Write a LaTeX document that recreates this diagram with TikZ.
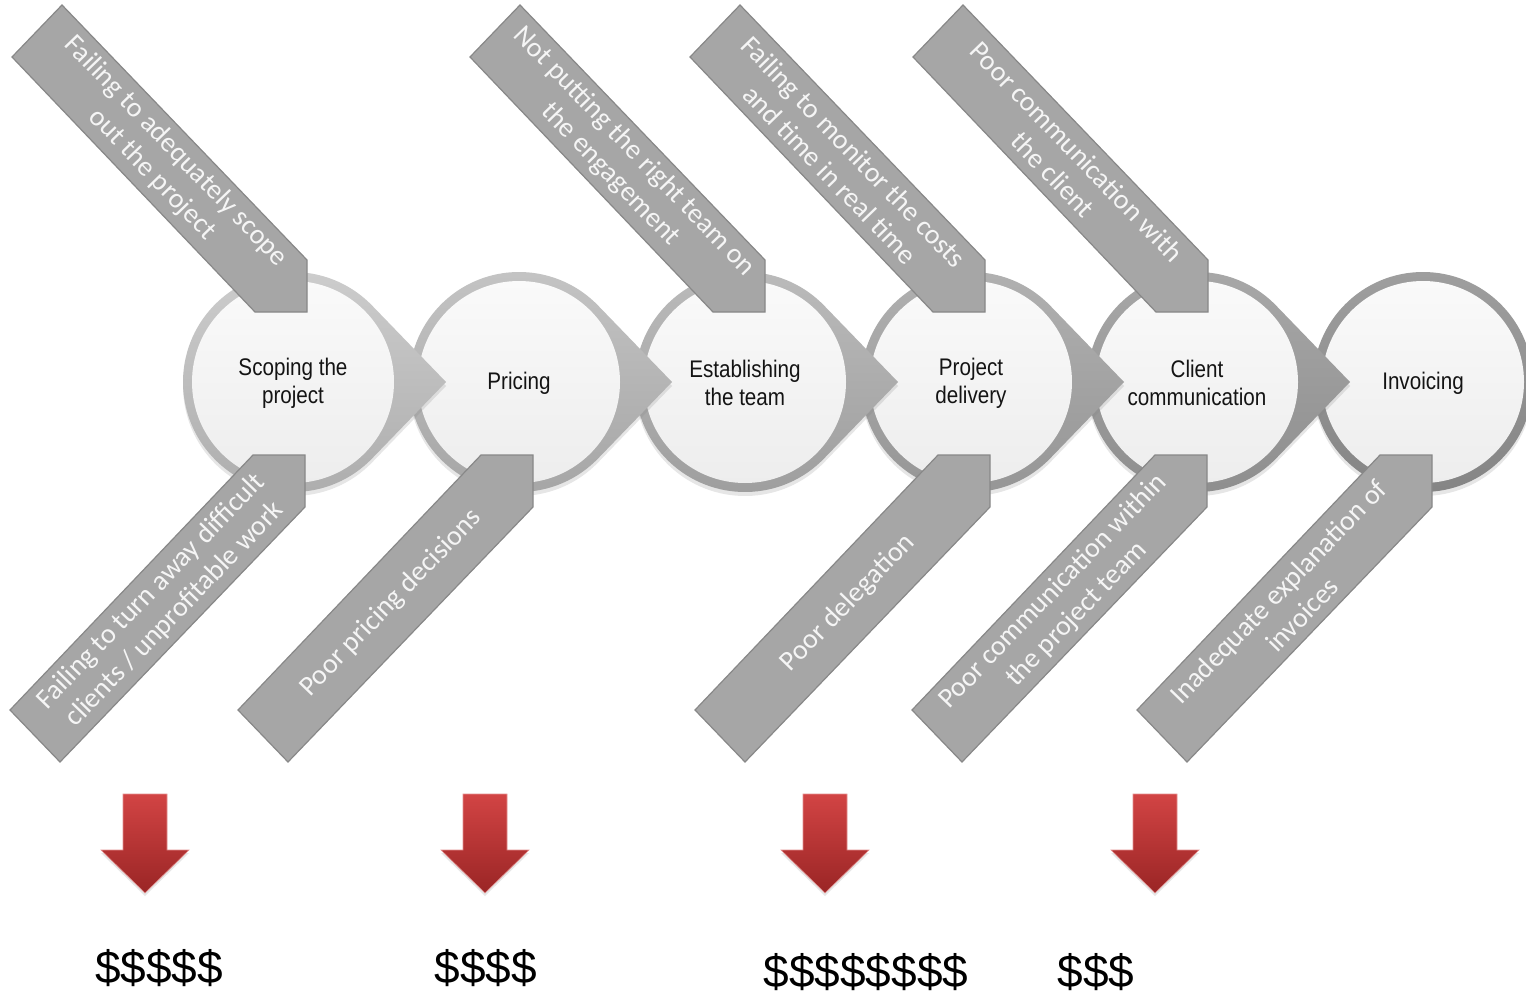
\documentclass[tikz,border=0pt]{standalone}
\usepackage{fontspec}
\usetikzlibrary{shadows}
\newfontfamily\calibri{Carlito}
\newfontfamily\arial{Liberation Sans}
\newfontfamily\arialnarrow[FakeStretch=0.86]{Liberation Sans}

\definecolor{causefill}{HTML}{A6A6A6}
\definecolor{causeline}{HTML}{888888}
\definecolor{costtop}{HTML}{D24444}
\definecolor{costbot}{HTML}{9A2525}
\definecolor{ringa}{HTML}{CDCDCD}
\definecolor{ringb}{HTML}{C4C4C4}
\definecolor{ringc}{HTML}{BBBBBB}
\definecolor{ringd}{HTML}{B1B1B1}
\definecolor{ringe}{HTML}{A8A8A8}
\definecolor{ringf}{HTML}{9E9E9E}

\tikzset{
  cause/.style={fill=causefill, draw=causeline, line width=0.6pt, line join=miter},
  causetext/.style={text=white!96!black, align=center, inner sep=0pt,
    font=\calibri\fontsize{14}{16.5}\selectfont},
  stagering/.style={top color=#1, bottom color=#1!84!black,
    drop shadow={shadow xshift=0pt, shadow yshift=-2pt, opacity=0.2}},
  stageface/.style={top color=white!98!black, bottom color=white!93!black},
  stagetext/.style={align=center, text=black!92, inner sep=0pt,
    font=\arialnarrow\fontsize{12}{14}\selectfont},
  cost/.style={top color=costtop, bottom color=costbot, draw=costtop!60!white, line width=0.3pt,
    drop shadow={shadow xshift=0pt, shadow yshift=-1.5pt, opacity=0.2}},
  costtext/.style={anchor=base, inner sep=0pt, font=\arial\fontsize{23}{26}\selectfont}
}

% cause arrow coming down onto a stage, tip at (#1,312)
\def\causeabove(#1)(#2)#3{%
  \draw[cause] (#1,312) -- (#1,260) -- ({#1-245},5) -- ({#1-295},57) -- ({#1-52},312) -- cycle;
  \node[causetext, rotate=-46] (#2) at ({#1-143},163) {#3};}
% cause arrow coming up onto a stage, tip at (#1,455)
\def\causebelow(#1)(#2)#3{%
  \draw[cause] (#1,455) -- ({#1-52},455) -- ({#1-295},710) -- ({#1-245},762) -- (#1,507) -- cycle;
  \node[causetext, rotate=46] (#2) at ({#1-142},603) {#3};}

\begin{document}
\begin{tikzpicture}[x=0.5pt, y=-0.5pt]
  %%%%% START %%%%%
  \useasboundingbox (0,0) rectangle (1526,995);

  % last stage has no point
  \path[stagering=ringf] (1423,382) circle[radius=110];
  \path[stageface] (1423,382) circle[radius=101];

  % the other stages, right to left so each point lies over the next one
  \foreach \cx/\ring in {1197/ringe, 971/ringd, 745/ringc, 519/ringb, 293/ringa}{
    \begin{scope}[shift={(\cx,382)}]
      \path[stagering=\ring] (153,0) -- (44:110) arc[start angle=44, end angle=316, radius=110] -- cycle;
      \path[stageface] (0,0) circle[radius=101];
    \end{scope}
  }

  \node[stagetext] (scoping) at (293,383) {Scoping the\\project};
  \node[stagetext] (pricing) at (519,383) {Pricing};
  \node[stagetext] (team) at (745,383) {Establishing\\the team};
  \node[stagetext] (delivery) at (971,383) {Project\\delivery};
  \node[stagetext] (client) at (1197,383) {Client\\communication};
  \node[stagetext] (invoicing) at (1423,383) {Invoicing};

  \causeabove(307)(scopegap){Failing to adequately scope\\out the project}
  \causeabove(765)(wrongteam){Not putting the right team on\\the engagement}
  \causeabove(985)(monitor){Failing to monitor the costs\\and time in real time}
  \causeabove(1208)(clientcomm){Poor communication with\\the client}

  \causebelow(305)(turnaway){Failing to turn away difficult\\clients / unprofitable work}
  \causebelow(533)(badprice){Poor pricing decisions}
  \causebelow(990)(delegation){Poor delegation}
  \causebelow(1207)(teamcomm){Poor communication within\\the project team}
  \causebelow(1432)(invoiceinfo){Inadequate explanation of\\invoices}

  % red arrows and what they cost
  \foreach \x in {145, 485, 825, 1155}
    \draw[cost] ({\x-22},794) -- ({\x+22},794) -- ({\x+22},850) -- ({\x+44},850) -- (\x,893)
      -- ({\x-44},850) -- ({\x-22},850) -- cycle;

  \node[costtext] (loss1) at (159,983) {\$\$\$\$\$};
  \node[costtext] (loss2) at (486,983) {\$\$\$\$};
  \node[costtext] (loss3) at (866,987) {\$\$\$\$\$\$\$\$};
  \node[costtext] (loss4) at (1096,987) {\$\$\$};
  %%%%% END %%%%%
\end{tikzpicture}
\end{document}
